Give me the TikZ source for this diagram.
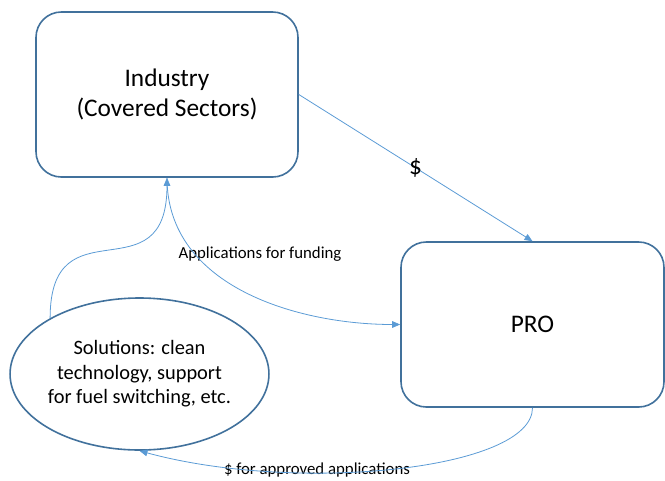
\documentclass[tikz,border=0pt]{standalone}
\usepackage{fontspec}
\setmainfont{Carlito}
\usepackage{xcolor}
\usepackage{tikz}
\usetikzlibrary{shapes.geometric, arrows.meta}

\definecolor{boxline}{RGB}{65,113,156}
\definecolor{flowline}{RGB}{91,155,213}

\tikzset{
  roundbox/.style={draw=boxline, line width=1.2pt, rectangle, rounded corners=19pt, inner sep=0pt, align=center, font=\fontsize{19}{23}\selectfont},
  solbox/.style={draw=boxline, line width=1.2pt, ellipse, inner sep=0pt, align=center, font=\fontsize{15.3}{18.4}\selectfont},
  flow/.style={draw=flowline, line width=0.6pt, -{Triangle[length=6pt, width=5pt]}},
  flowlabel/.style={font=\fontsize{12.6}{15}\selectfont, inner sep=1pt}
}

\begin{document}
\begin{tikzpicture}[x=0.75pt, y=-0.75pt]
                \useasboundingbox (0,0) rectangle (665,480);
                \node[roundbox, minimum width=196.5pt, minimum height=123.75pt] (ind) at (167,94.5) {Industry\\(Covered Sectors)};
                \node[roundbox, minimum width=197.25pt, minimum height=123.75pt] (pro) at (532.5,324.5) {PRO};
                \node[solbox, minimum width=189.75pt, minimum height=114pt] (sol) at (139.5,374) {Solutions: clean\\technology, support\\for fuel switching, etc.};
                \node[flowlabel] (lblapp) at (260,254) {Applications for funding};
                \node[flowlabel] (lblpay) at (317,470) {\$ for approved applications};
                \draw[flow] (ind.east) -- node[pos=0.5, font=\fontsize{19}{23}\selectfont] (dollar) {\$} (pro.north);
                \draw[flow] (sol.148) .. controls +(0,-118) and +(0,121) .. (ind.south);
                \draw[flow] (ind.south) .. controls +(0,110) and +(-100,0) .. (pro.west);
                \draw[flow] (pro.south) .. controls +(0,62) and +(158,43) .. (sol.south);
            \end{tikzpicture}
\end{document}
